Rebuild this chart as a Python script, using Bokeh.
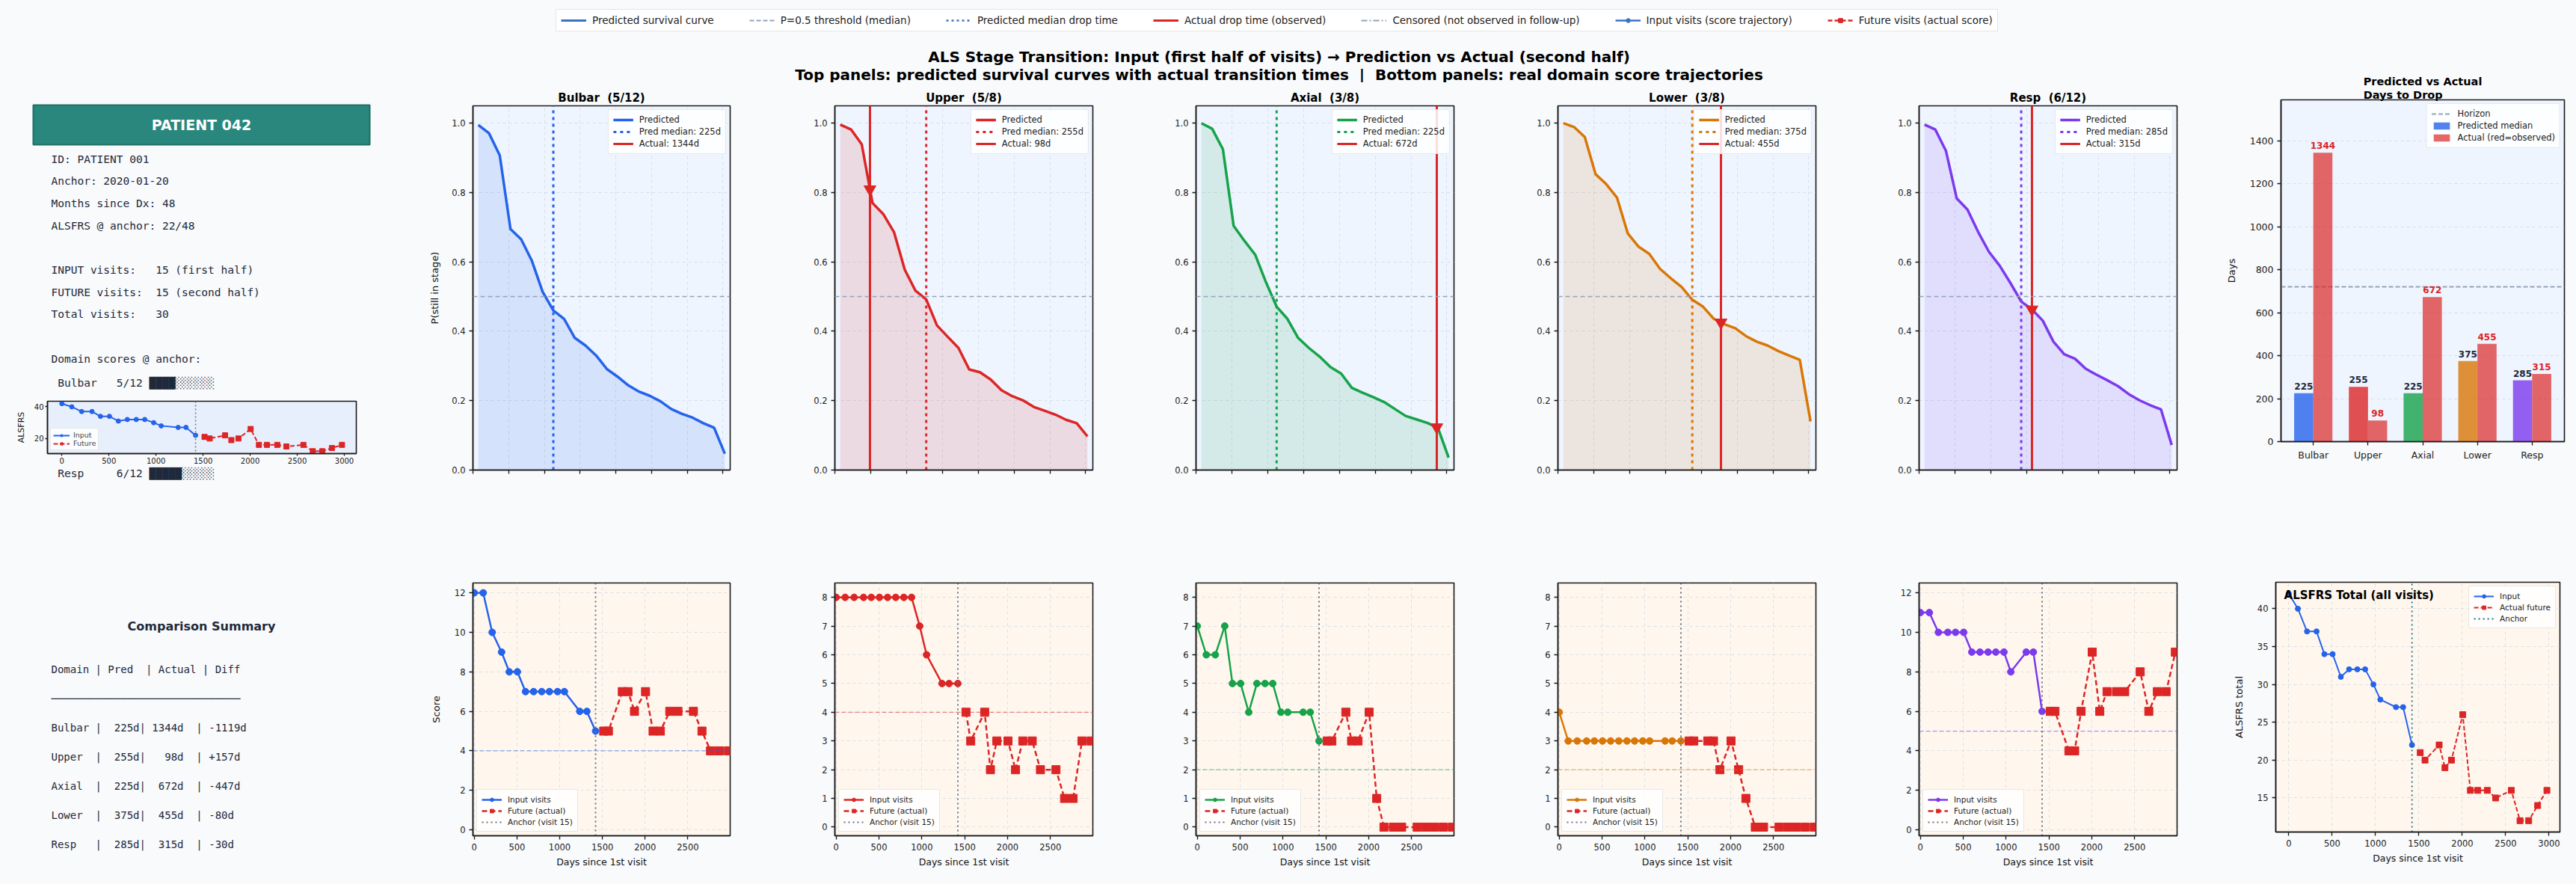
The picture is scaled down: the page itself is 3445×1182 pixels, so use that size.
import numpy as np
from bokeh.plotting import figure
from bokeh.models import (Range1d, Span, Label, Legend, LegendItem, FixedTicker,
                          NumeralTickFormatter, CustomJSTickFormatter, Title)
from bokeh.layouts import row, column
from bokeh.embed import file_html
from bokeh.resources import INLINE
from bokeh.core.properties import value

# ---------------- data ----------------
DOMAINS = ["Bulbar", "Upper", "Axial", "Lower", "Resp"]
DOMAIN_MAX = [12, 8, 8, 8, 12]
ANCHOR_SCORES = [5, 5, 3, 3, 6]
COLORS = ["#2563eb", "#dc2626", "#16a34a", "#d97706", "#7c3aed"]
PRED_MEDIAN = [225, 255, 225, 375, 285]
ACTUAL_DROP = [1344, 98, 672, 455, 315]
THRESHOLD = [4, 4, 2, 2, 5]
HORIZON = 720

SURV_DAYS = [15, 45, 75, 105, 135, 165, 195, 225, 255, 285, 315, 345,
             375, 405, 435, 465, 495, 525, 555, 585, 615, 645, 675, 705]
SURV_BULBAR = [0.995, 0.971, 0.907, 0.695, 0.665, 0.603, 0.514, 0.460, 0.436, 0.381, 0.359, 0.330,
               0.291, 0.269, 0.244, 0.226, 0.214, 0.198, 0.176, 0.162, 0.151, 0.135, 0.122, 0.047]
SURV_UPPER = [0.996, 0.982, 0.939, 0.770, 0.738, 0.686, 0.578, 0.517, 0.492, 0.417, 0.384, 0.352,
              0.290, 0.282, 0.261, 0.230, 0.213, 0.201, 0.182, 0.171, 0.160, 0.145, 0.135, 0.097]
SURV_AXIAL = [1.000, 0.984, 0.925, 0.704, 0.661, 0.621, 0.542, 0.471, 0.436, 0.381, 0.352, 0.327,
              0.297, 0.278, 0.237, 0.223, 0.210, 0.196, 0.176, 0.156, 0.146, 0.136, 0.122, 0.036]
SURV_LOWER = [1.000, 0.989, 0.960, 0.853, 0.824, 0.785, 0.682, 0.644, 0.623, 0.580, 0.553, 0.528,
              0.491, 0.471, 0.436, 0.420, 0.409, 0.386, 0.370, 0.359, 0.343, 0.330, 0.318, 0.140]
SURV_RESP = [0.996, 0.982, 0.920, 0.783, 0.751, 0.686, 0.629, 0.589, 0.539, 0.486, 0.463, 0.431,
             0.370, 0.334, 0.321, 0.292, 0.275, 0.259, 0.242, 0.219, 0.201, 0.187, 0.175, 0.072]
SURV = [SURV_BULBAR, SURV_UPPER, SURV_AXIAL, SURV_LOWER, SURV_RESP]

INPUT_DAYS = [0, 105, 210, 320, 410, 505, 600, 695, 790, 880, 975, 1055, 1235, 1318, 1420]
FUTURE_DAYS = [1515, 1570, 1733, 1800, 1875, 2005, 2093, 2178, 2288, 2384, 2565, 2665, 2765, 2868, 2975]
ANCHOR_DAY = 1420

INPUT_BULBAR = [12, 12, 10, 9, 8, 8, 7, 7, 7, 7, 7, 7, 6, 6, 5]
FUTURE_BULBAR = [5, 5, 7, 7, 6, 7, 5, 5, 6, 6, 6, 5, 4, 4, 4]
INPUT_UPPER = [8, 8, 8, 8, 8, 8, 8, 8, 8, 8, 7, 6, 5, 5, 5]
FUTURE_UPPER = [4, 3, 4, 2, 3, 3, 2, 3, 3, 2, 2, 1, 1, 3, 3]
INPUT_AXIAL = [7, 6, 6, 7, 5, 5, 4, 5, 5, 5, 4, 4, 4, 4, 3]
FUTURE_AXIAL = [3, 3, 4, 3, 3, 4, 1, 0, 0, 0, 0, 0, 0, 0, 0]
INPUT_LOWER = [4, 3, 3, 3, 3, 3, 3, 3, 3, 3, 3, 3, 3, 3, 3]
FUTURE_LOWER = [3, 3, 3, 3, 2, 3, 2, 1, 0, 0, 0, 0, 0, 0, 0]
INPUT_RESP = [11, 11, 10, 10, 10, 10, 9, 9, 9, 9, 9, 8, 9, 9, 6]
FUTURE_RESP = [6, 6, 4, 4, 6, 9, 6, 7, 7, 7, 8, 6, 7, 7, 9]
INPUT_SCORES = [INPUT_BULBAR, INPUT_UPPER, INPUT_AXIAL, INPUT_LOWER, INPUT_RESP]
FUTURE_SCORES = [FUTURE_BULBAR, FUTURE_UPPER, FUTURE_AXIAL, FUTURE_LOWER, FUTURE_RESP]
TOTAL_INPUT = [int(v) for v in np.sum(np.array(INPUT_SCORES), axis=0)]
TOTAL_FUTURE = [int(v) for v in np.sum(np.array(FUTURE_SCORES), axis=0)]

INFO_LINES = ["ID: PATIENT 001", "Anchor: 2020-01-20", "Months since Dx: 48",
              "ALSFRS @ anchor: 22/48", "", "INPUT visits:   15 (first half)",
              "FUTURE visits:  15 (second half)", "Total visits:   30", "",
              "Domain scores @ anchor:"]

# ---------------- style ----------------
BG = "#f8fafc"
INK = "#1e293b"
RED = "#dc2626"
GRAY = "#94a3b8"
FONT = "DejaVu Sans"
MONO = "DejaVu Sans Mono"
TOP_BG = "#eff5ff"
BOT_BG = "#fff7ee"
COLS = [(480, 112, 24), (500, 116, 39), (490, 99, 46), (480, 93, 42), (480, 96, 39)]
NAN2 = [float("nan"), float("nan")]


def nb(s):
    return s.replace(" ", "\u00a0")


def style(p, tick_size="11.5px"):
    p.outline_line_color = "#1a1a1a"
    p.outline_line_width = 1.6
    p.outline_line_alpha = 1.0
    for ax in p.axis:
        ax.axis_line_color = "#1a1a1a"
        ax.axis_line_width = 1.5
        ax.major_tick_line_color = "#1a1a1a"
        ax.major_tick_line_width = 1.3
        ax.major_tick_in = 0
        ax.major_tick_out = 5
        ax.minor_tick_line_color = None
        ax.major_label_text_font = FONT
        ax.major_label_text_font_size = tick_size
        ax.major_label_text_color = "#222222"
        ax.axis_label_text_font = FONT
        ax.axis_label_text_font_size = "13px"
        ax.axis_label_text_font_style = "normal"
        ax.axis_label_text_color = "#111111"
    p.grid.grid_line_color = "#cbd5e1"
    p.grid.grid_line_dash = "4 4"
    p.grid.grid_line_alpha = 0.7
    if p.title is not None:
        p.title.text_font = FONT
        p.title.text_font_size = "15px"
        p.title.text_font_style = "bold"
        p.title.align = "center"
        p.title.text_color = "#000000"
        p.title.standoff = 4


def legend_style(p, loc, size):
    lg = p.legend[0]
    lg.location = loc
    lg.label_text_font = FONT
    lg.label_text_font_size = size
    lg.label_text_color = "#222222"
    lg.glyph_width = 27
    lg.glyph_height = 12
    lg.label_height = 13
    lg.spacing = 2
    lg.padding = 6
    lg.margin = 5
    lg.label_standoff = 8
    lg.border_line_color = "#d0d0d0"
    lg.border_line_width = 1.5
    lg.background_fill_alpha = 0.85


def top_panel(i):
    w, bl, br = COLS[i]
    p = figure(width=w, height=580, x_range=Range1d(0, HORIZON), y_range=Range1d(0, 1.05),
               output_backend="svg", toolbar_location=None, frame_align=False,
               min_border_left=bl, min_border_right=br, min_border_top=31, min_border_bottom=62,
               background_fill_color=TOP_BG, border_fill_color=BG,
               title=nb(f"{DOMAINS[i]}  ({ANCHOR_SCORES[i]}/{DOMAIN_MAX[i]})"))
    style(p)
    c = COLORS[i]
    s = SURV[i]
    p.varea(x=SURV_DAYS, y1=0, y2=s, fill_color=c, fill_alpha=0.13)
    p.add_layout(Span(location=0.5, dimension="width", line_color=GRAY,
                      line_dash="6 4", line_width=1.5))
    p.line(SURV_DAYS, s, line_color=c, line_width=3.5, legend_label="Predicted")
    m = PRED_MEDIAN[i]
    p.segment(x0=[m], y0=[0], x1=[m], y1=[1.05], line_color=c, line_width=3,
              line_dash="4 5", legend_label=f"Pred median: {m}d")
    a = ACTUAL_DROP[i]
    p.segment(x0=[a], y0=[0], x1=[a], y1=[1.05], line_color=RED, line_width=3,
              legend_label=f"Actual: {a}d")
    if a <= HORIZON:
        p.scatter([a], [float(np.interp(a, SURV_DAYS, s))], marker="inverted_triangle",
                  size=16, color=RED)
    p.xaxis.ticker = FixedTicker(ticks=[0, 100, 200, 300, 400, 500, 600, 700])
    p.xaxis.formatter = CustomJSTickFormatter(code="return ''")
    p.yaxis.ticker = FixedTicker(ticks=[0, 0.2, 0.4, 0.6, 0.8, 1.0])
    p.yaxis.formatter = NumeralTickFormatter(format="0.0")
    if i == 0:
        p.yaxis.axis_label = "P(still in stage)"
        p.yaxis.axis_label_standoff = 12
    legend_style(p, "top_right", "11.5px")
    return p


def bottom_panel(i):
    w, bl, br = COLS[i]
    ymax = DOMAIN_MAX[i] + 0.5
    p = figure(width=w, height=492, x_range=Range1d(-15, 2995), y_range=Range1d(-0.3, ymax),
               output_backend="svg", toolbar_location=None, frame_align=False,
               min_border_left=bl, min_border_right=br, min_border_top=89, min_border_bottom=65,
               background_fill_color=BOT_BG, border_fill_color=BG)
    style(p)
    c = COLORS[i]
    p.add_layout(Span(location=THRESHOLD[i], dimension="width", line_color=c, line_alpha=0.55,
                      line_dash="6 3", line_width=1.3))
    r1 = p.line(INPUT_DAYS, INPUT_SCORES[i], line_color=c, line_width=2.5)
    r2 = p.scatter(INPUT_DAYS, INPUT_SCORES[i], marker="circle", size=9, color=c)
    r3 = p.line(FUTURE_DAYS, FUTURE_SCORES[i], line_color=RED, line_width=2.5, line_dash="7 4")
    r4 = p.scatter(FUTURE_DAYS, FUTURE_SCORES[i], marker="square", size=11, color=RED)
    r5 = p.segment(x0=[ANCHOR_DAY], y0=[-0.3], x1=[ANCHOR_DAY], y1=[ymax], line_color="#64748b",
                   line_width=2, line_dash="2 4")
    lg = Legend(items=[LegendItem(label="Input visits", renderers=[r1, r2]),
                       LegendItem(label="Future (actual)", renderers=[r3, r4]),
                       LegendItem(label="Anchor (visit 15)", renderers=[r5])])
    p.add_layout(lg)
    legend_style(p, "bottom_left", "10.5px")
    p.xaxis.ticker = FixedTicker(ticks=[0, 500, 1000, 1500, 2000, 2500])
    step = 2 if DOMAIN_MAX[i] > 8 else 1
    p.yaxis.ticker = FixedTicker(ticks=list(range(0, DOMAIN_MAX[i] + 1, step)))
    p.xaxis.axis_label = "Days since 1st visit"
    p.xaxis.axis_label_text_font_size = "12.5px"
    if i == 0:
        p.yaxis.axis_label = "Score"
        p.yaxis.axis_label_standoff = 14
    return p


def text_fig(w, h):
    p = figure(width=w, height=h, x_range=Range1d(0, w), y_range=Range1d(h, 0),
               output_backend="svg", toolbar_location=None, frame_align=False,
               x_axis_location=None, y_axis_location=None,
               min_border=0, background_fill_color=BG, border_fill_color=BG)
    p.outline_line_color = None
    p.grid.visible = False
    return p


# ---------------- header ----------------
hdr = text_fig(2950, 110)
items = []
r = hdr.line(x=NAN2, y=NAN2, line_color="#3b73c4", line_width=3)
items.append(LegendItem(label="Predicted survival curve", renderers=[r]))
r = hdr.line(x=NAN2, y=NAN2, line_color=GRAY, line_width=1.8, line_dash="6 3")
items.append(LegendItem(label="P=0.5 threshold (median)", renderers=[r]))
r = hdr.line(x=NAN2, y=NAN2, line_color="#3b73c4", line_width=2.5, line_dash="3 4")
items.append(LegendItem(label="Predicted median drop time", renderers=[r]))
r = hdr.line(x=NAN2, y=NAN2, line_color=RED, line_width=3)
items.append(LegendItem(label="Actual drop time (observed)", renderers=[r]))
r = hdr.line(x=NAN2, y=NAN2, line_color=GRAY, line_width=2, line_dash="8 3 2 3")
items.append(LegendItem(label="Censored (not observed in follow-up)", renderers=[r]))
r1 = hdr.line(x=NAN2, y=NAN2, line_color="#3b73c4", line_width=2.5)
r2 = hdr.scatter(x=NAN2, y=NAN2, marker="circle", size=9, color="#3b73c4")
items.append(LegendItem(label="Input visits (score trajectory)", renderers=[r1, r2]))
r1 = hdr.line(x=NAN2, y=NAN2, line_color=RED, line_width=2.5, line_dash="6 3")
r2 = hdr.scatter(x=NAN2, y=NAN2, marker="square", size=10, color=RED)
items.append(LegendItem(label="Future visits (actual score)", renderers=[r1, r2]))
glg = Legend(items=items, orientation="horizontal", location=(743, 68),
             label_text_font=FONT, label_text_font_size="13.5px", label_text_color="#222222",
             glyph_width=34, glyph_height=14, label_height=14, spacing=47, padding=6,
             label_standoff=8, border_line_color="#cccccc", border_line_width=1.5,
             background_fill_color="white", background_fill_alpha=1.0, margin=0)
hdr.add_layout(glg)
hdr.add_layout(Label(x=1710, y=75, text="ALS Stage Transition: Input (first half of visits) \u2192 Prediction vs Actual (second half)",
                     text_align="center", text_baseline="middle", text_font=FONT,
                     text_font_size="20px", text_font_style="bold", text_color="#000000"))
hdr.add_layout(Label(x=1710, y=99, text=nb("Top panels: predicted survival curves with actual transition times  |  Bottom panels: real domain score trajectories"),
                     text_align="center", text_baseline="middle", text_font=FONT,
                     text_font_size="20px", text_font_style="bold", text_color="#000000"))

# ---------------- left column ----------------
lt = text_fig(520, 420)
lt.quad(left=[44], right=[494], top=[30], bottom=[83], fill_color="#2a877d", line_color="#1f6f66",
        line_width=2)
lt.text(x=[269], y=[56], text=["PATIENT 042"], text_align="center", text_baseline="middle",
        text_font=value(FONT), text_font_size="19px", text_font_style="bold", text_color="white")
ys = [102 + 29.7 * k for k in range(len(INFO_LINES))]
lt.text(x=[68] * len(INFO_LINES), y=ys, text=[nb(s) for s in INFO_LINES], text_align="left",
        text_baseline="middle", text_font=value(MONO), text_font_size="14.5px", text_color=INK)


def score_line(k):
    filled = int(round(ANCHOR_SCORES[k] / DOMAIN_MAX[k] * 10))
    bar = "\u2588" * filled + "\u2591" * (10 - filled)
    return nb(f" {DOMAINS[k]:<8}{ANCHOR_SCORES[k]:>2}/{DOMAIN_MAX[k]:<2} {bar}")


lt.text(x=[68], y=[ys[-1] + 32], text=[score_line(0)], text_align="left", text_baseline="middle",
        text_font=value(MONO), text_font_size="14.5px", text_color=INK)

ins = figure(width=520, height=94, x_range=Range1d(-153, 3127), y_range=Range1d(10.5, 43.5),
             output_backend="svg", toolbar_location=None, frame_align=False,
             min_border_left=63, min_border_right=44, min_border_top=6, min_border_bottom=18,
             background_fill_color="#e8effc", border_fill_color=BG)
style(ins, tick_size="10px")
ins.grid.visible = False
for ax in ins.axis:
    ax.major_tick_out = 3
    ax.major_label_standoff = 2
ins.yaxis.axis_label = "ALSFRS"
ins.yaxis.axis_label_text_font_size = "11px"
ins.yaxis.axis_label_standoff = 8
ins.xaxis.ticker = FixedTicker(ticks=[0, 500, 1000, 1500, 2000, 2500, 3000])
ins.yaxis.ticker = FixedTicker(ticks=[20, 40])
a1 = ins.line(INPUT_DAYS, TOTAL_INPUT, line_color="#2563eb", line_width=2)
a2 = ins.scatter(INPUT_DAYS, TOTAL_INPUT, marker="circle", size=6, color="#2563eb")
a3 = ins.line(FUTURE_DAYS, TOTAL_FUTURE, line_color=RED, line_width=2, line_dash="6 3")
a4 = ins.scatter(FUTURE_DAYS, TOTAL_FUTURE, marker="square", size=7, color=RED)
ins.add_layout(Span(location=ANCHOR_DAY, dimension="height", line_color="#64748b",
                    line_width=1.5, line_dash="2 3"))
ilg = Legend(items=[LegendItem(label="Input", renderers=[a1, a2]),
                    LegendItem(label="Future", renderers=[a3, a4])],
             location="bottom_left", label_text_font=FONT, label_text_font_size="9.5px",
             glyph_width=22, glyph_height=8, label_height=10, spacing=0, padding=3, margin=4,
             label_standoff=5, border_line_color="#d0d0d0", background_fill_alpha=0.85)
ins.add_layout(ilg)

lb = text_fig(520, 558)
lb.text(x=[68], y=[8], text=[score_line(4)], text_align="left", text_baseline="middle",
        text_font=value(MONO), text_font_size="14.5px", text_color=INK)
lb.text(x=[269], y=[213], text=["Comparison Summary"], text_align="center", text_baseline="middle",
        text_font=value(FONT), text_font_size="16px", text_font_style="bold", text_color=INK)
table = ["Domain | Pred  | Actual | Diff", "\u2500" * 30]
for k in range(5):
    diff = PRED_MEDIAN[k] - ACTUAL_DROP[k]
    table.append(f"{DOMAINS[k]:<7}| {PRED_MEDIAN[k]:>4}d| {ACTUAL_DROP[k]:>4}d  | {diff:+d}d")
lb.text(x=[68] * len(table), y=[270 + 39 * k for k in range(len(table))],
        text=[nb(s) for s in table], text_align="left", text_baseline="middle",
        text_font=value(MONO), text_font_size="14px", text_color=INK)

left_col = column(lt, ins, lb, spacing=0)

# ---------------- domain columns ----------------
dom_cols = [column(top_panel(i), bottom_panel(i), spacing=0) for i in range(5)]

# ---------------- bar chart ----------------
xs = np.arange(len(DOMAINS))
bar = figure(width=495, height=690, x_range=Range1d(-0.59, 4.59), y_range=Range1d(0, 1590),
             output_backend="svg", toolbar_location=None, frame_align=False,
             min_border_left=100, min_border_right=16, min_border_top=133, min_border_bottom=100,
             background_fill_color=TOP_BG, border_fill_color=BG,
             title="Predicted vs Actual\nDays to Drop")
style(bar, tick_size="12.5px")
bar.title.text_font_size = "14.5px"
bar.title.text_line_height = 1.15
bar.title.standoff = -3
bar.xgrid.visible = False
hr = bar.line(x=[-0.59, 4.59], y=[HORIZON, HORIZON], line_color=GRAY, line_width=2, line_dash="6 3")
pr = bar.vbar(x=xs - 0.175, top=PRED_MEDIAN, width=0.35, fill_color=COLORS, fill_alpha=0.8,
              line_color=None)
ar = bar.vbar(x=xs + 0.175, top=ACTUAL_DROP, width=0.35, fill_color=RED, fill_alpha=0.7,
              line_color=None)
bar.text(x=xs - 0.175, y=PRED_MEDIAN, text=[str(v) for v in PRED_MEDIAN], text_align="center",
         text_baseline="bottom", y_offset=-5, text_font=value(FONT), text_font_size="12px",
         text_font_style="bold", text_color=INK)
bar.text(x=xs + 0.175, y=ACTUAL_DROP, text=[str(v) for v in ACTUAL_DROP], text_align="center",
         text_baseline="bottom", y_offset=-5, text_font=value(FONT), text_font_size="12px",
         text_font_style="bold", text_color=RED)
blg = Legend(items=[LegendItem(label="Horizon", renderers=[hr]),
                    LegendItem(label="Predicted median", renderers=[pr], index=0),
                    LegendItem(label="Actual (red=observed)", renderers=[ar], index=0)])
bar.add_layout(blg)
legend_style(bar, "top_right", "11.5px")
bar.xaxis.ticker = FixedTicker(ticks=[int(v) for v in xs])
bar.xaxis.major_label_overrides = {int(k): d for k, d in zip(xs, DOMAINS)}
bar.yaxis.ticker = FixedTicker(ticks=[0, 200, 400, 600, 800, 1000, 1200, 1400])
bar.yaxis.axis_label = "Days"
bar.yaxis.axis_label_standoff = 14

# ---------------- ALSFRS total ----------------
tot = figure(width=495, height=492, x_range=Range1d(-150, 3125), y_range=Range1d(10.5, 43.5),
             output_backend="svg", toolbar_location=None, frame_align=False,
             min_border_left=93, min_border_right=22, min_border_top=88, min_border_bottom=70,
             background_fill_color=BOT_BG, border_fill_color=BG)
style(tot)
t1 = tot.line(INPUT_DAYS, TOTAL_INPUT, line_color="#2563eb", line_width=2)
t2 = tot.scatter(INPUT_DAYS, TOTAL_INPUT, marker="circle", size=7, color="#2563eb")
t3 = tot.line(FUTURE_DAYS, TOTAL_FUTURE, line_color=RED, line_width=2, line_dash="6 3")
t4 = tot.scatter(FUTURE_DAYS, TOTAL_FUTURE, marker="square", size=8, color=RED)
t5 = tot.segment(x0=[ANCHOR_DAY], y0=[10.5], x1=[ANCHOR_DAY], y1=[43.5], line_color="#0e7490",
                 line_width=1.8, line_dash="2 4")
tlg = Legend(items=[LegendItem(label="Input", renderers=[t1, t2]),
                    LegendItem(label="Actual future", renderers=[t3, t4]),
                    LegendItem(label="Anchor", renderers=[t5])])
tot.add_layout(tlg)
legend_style(tot, "top_right", "10.5px")
tot.add_layout(Label(x=-55, y=41.8, text="ALSFRS Total (all visits)", text_align="left",
                     text_baseline="middle", text_font=FONT, text_font_size="15px",
                     text_font_style="bold", text_color="#000000"))
tot.xaxis.ticker = FixedTicker(ticks=[0, 500, 1000, 1500, 2000, 2500, 3000])
tot.yaxis.ticker = FixedTicker(ticks=[15, 20, 25, 30, 35, 40])
tot.xaxis.axis_label = "Days since 1st visit"
tot.xaxis.axis_label_text_font_size = "12.5px"
tot.yaxis.axis_label = "ALSFRS total"
tot.yaxis.axis_label_standoff = 14

# ---------------- layout ----------------
main_left = column(hdr, row(left_col, *dom_cols, spacing=0), spacing=0)
right_col = column(bar, tot, spacing=0)
layout = row(main_left, right_col, spacing=0)

html = file_html(layout, INLINE, title="ALS Stage Transition")
html = html.replace("<body>", '<body style="margin:0;background:#f8fafc;">')
open("out.html", "w").write(html)
